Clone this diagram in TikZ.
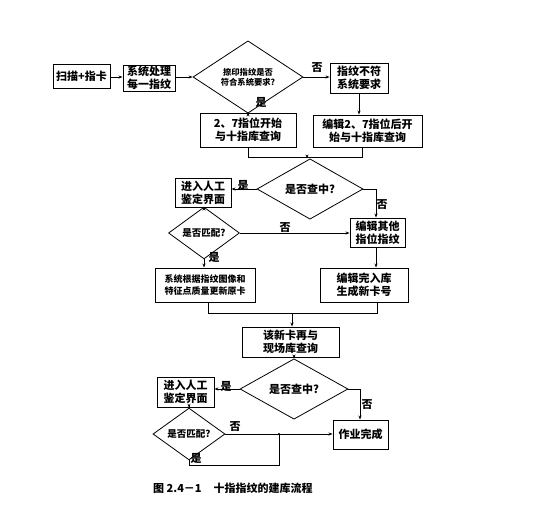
\documentclass[tikz,border=0pt]{standalone}
\usepackage{fontspec}
\newfontfamily\cjk{Noto Sans CJK SC}
\usetikzlibrary{shapes.geometric,arrows.meta}
\begin{document}
\begin{tikzpicture}[x=1pt,y=-1pt,
  every node/.style={font=\cjk\bfseries\fontsize{11}{13}\selectfont},
  box/.style={draw,line width=0.9pt,inner sep=1pt,align=center},
  dia/.style={draw,diamond,line width=0.8pt,inner sep=0pt,align=center},
  conn/.style={line width=0.7pt},
  arr/.style={conn,-{Stealth[length=4pt,width=3pt]}},
  lab/.style={inner sep=0pt,font=\cjk\bfseries\fontsize{11}{12}\selectfont}]
\useasboundingbox (0,0) rectangle (536,509);
% row 1
\node[box,minimum width=57pt,minimum height=24pt] (b1) at (81.5,76) {扫描+指卡};
\node[box,minimum width=52pt,minimum height=26pt] (b2) at (149,78) {系统处理\\每一指纹};
\node[dia,minimum width=110pt,minimum height=44pt,font=\cjk\bfseries\fontsize{8.3}{10}\selectfont] (d1) at (248,77) {捺印指纹是否\\符合系统要求?};
\node[box,minimum width=58pt,minimum height=30pt] (b3) at (359,78) {指纹不符\\系统要求};
% row 2
\node[box,minimum width=96pt,minimum height=34pt] (b4) at (248,130) {2、7指位开始\\与十指库查询};
\node[box,minimum width=109pt,minimum height=32pt] (b5) at (367.5,131) {编辑2、7指位后开\\始与十指库查询};
% row 3
\node[dia,minimum width=106pt,minimum height=42pt] (d2) at (310,189) {是否查中?};
\node[box,minimum width=56pt,minimum height=29pt] (b6) at (203,192.5) {进入人工\\鉴定界面};
\node[dia,minimum width=71pt,minimum height=32pt,font=\cjk\bfseries\fontsize{9.5}{10}\selectfont] (d3) at (204,233) {是否匹配?};
\node[box,minimum width=55pt,minimum height=29pt] (b7) at (377.5,232.5) {编辑其他\\指位指纹};
% row 4
\node[box,minimum width=100pt,minimum height=34pt,font=\cjk\bfseries\fontsize{9}{12}\selectfont] (b8) at (205,285) {系统根据指纹图像和\\特征点质量更新原卡};
\node[box,minimum width=88pt,minimum height=34pt] (b9) at (364,285) {编辑完入库\\生成新卡号};
\node[box,minimum width=97pt,minimum height=30pt] (b10) at (290.5,342) {该新卡再与\\现场库查询};
% row 5
\node[dia,minimum width=108pt,minimum height=42pt] (d4) at (294,389) {是否查中?};
\node[box,minimum width=57pt,minimum height=30pt] (b11) at (185.5,392) {进入人工\\鉴定界面};
\node[dia,minimum width=72pt,minimum height=32pt,font=\cjk\bfseries\fontsize{9.5}{10}\selectfont] (d5) at (189,434) {是否匹配?};
\node[box,minimum width=55pt,minimum height=29pt] (b12) at (360.5,434.5) {作业完成};
% coordinates
\coordinate (m1l) at (248,157);
\coordinate (m1r) at (362,157);
\coordinate (m1) at (307,157);
\coordinate (c2) at (376,189);
\coordinate (m2l) at (208,313);
\coordinate (m2r) at (377,313);
\coordinate (m2) at (292,313);
\coordinate (c4) at (360,389);
\coordinate (lp1) at (189,465);
\coordinate (lp2) at (279,465);
\coordinate (lp3) at (279,434);
% connectors
\draw[arr] (b1.east |- 0,77) -- (b2.west |- 0,77);
\draw[arr] (b2.east |- 0,77) -- (d1.west);
\draw[arr] (d1.east) -- (b3.west |- d1.east);
\draw[arr] (d1.south) -- (b4.north);
\draw[arr] (b3.south) -- (b3.south |- b5.north);
\draw[conn] (b4.south) -- (m1l) -- (m1r) -- (b5.south -| m1r);
\draw[arr] (m1) -- (d2.north -| m1);
\draw[arr] (d2.west) -- (b6.east |- d2.west);
\draw[arr] (d2.east) -- (c2) -- (c2 |- b7.north);
\draw[arr] (b6.south -| d3.north) -- (d3.north);
\draw[arr] (d3.east) -- (b7.west |- d3.east);
\draw[arr] (d3.south) -- (d3.south |- b8.north);
\draw[arr] (b7.south -| c2) -- (c2 |- b9.north);
\draw[conn] (m2l |- b8.south) -- (m2l) -- (m2r) -- (m2r |- b9.south);
\draw[arr] (m2) -- (m2 |- b10.north);
\draw[arr] (b10.south -| d4.north) -- (d4.north);
\draw[arr] (d4.west) -- (b11.east |- d4.west);
\draw[arr] (d4.east) -- (c4) -- (c4 |- b12.north);
\draw[arr] (b11.south -| d5.north) -- (d5.north);
\draw[arr] (d5.east) -- (b12.west |- d5.east);
\draw[conn] (d5.south) -- (lp1) -- (lp2) -- (lp3);
\fill (lp3) circle (1.2pt);
% labels
\node[lab] at (261,102) {是};
\node[lab] at (317,68) {否};
\node[lab] at (243,185) {是};
\node[lab] at (382,205) {否};
\node[lab] at (285,228) {否};
\node[lab] at (214,257) {是};
\node[lab] at (226,386) {是};
\node[lab] at (367,405) {否};
\node[lab] at (235,427) {否};
\node[lab] at (196,458) {是};
% caption
\node[anchor=west,inner sep=0pt,font=\cjk\bfseries\fontsize{11}{13}\selectfont] (cap) at (153,488) {图 2.4－1\hspace{12pt}十指指纹的建库流程};
\end{tikzpicture}
\end{document}
